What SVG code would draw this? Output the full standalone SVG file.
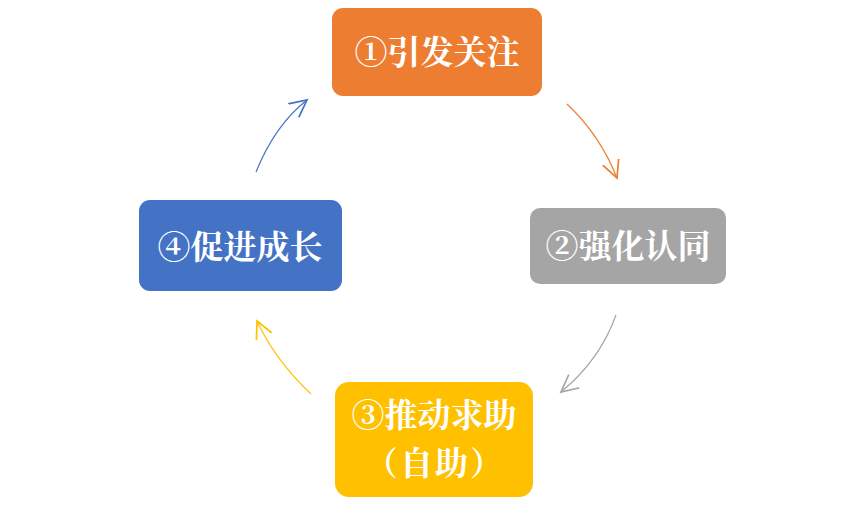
<svg xmlns="http://www.w3.org/2000/svg" width="865" height="514" viewBox="0 0 865 514">
<style>
.t{font-family:"Noto Serif CJK SC","Noto Sans CJK SC","Liberation Serif",serif;font-weight:bold;font-size:33px;fill:#fff;text-anchor:middle;dominant-baseline:central}
.c{fill:none;stroke-width:1.2}
</style>
<defs>
<marker id="mo" markerUnits="userSpaceOnUse" markerWidth="20" markerHeight="20" refX="12" refY="6" orient="auto" viewBox="0 0 14 12"><path d="M0,0 L12,6 L0,12" fill="none" stroke="#ED7D31" stroke-width="1.2"/></marker>
<marker id="mg" markerUnits="userSpaceOnUse" markerWidth="20" markerHeight="20" refX="12" refY="6" orient="auto" viewBox="0 0 14 12"><path d="M0,0 L12,6 L0,12" fill="none" stroke="#A5A5A5" stroke-width="1.2"/></marker>
<marker id="my" markerUnits="userSpaceOnUse" markerWidth="20" markerHeight="20" refX="12" refY="6" orient="auto" viewBox="0 0 14 12"><path d="M0,0 L12,6 L0,12" fill="none" stroke="#FFC000" stroke-width="1.2"/></marker>
<marker id="mb" markerUnits="userSpaceOnUse" markerWidth="20" markerHeight="20" refX="12" refY="6" orient="auto" viewBox="0 0 14 12"><path d="M0,0 L12,6 L0,12" fill="none" stroke="#4472C4" stroke-width="1.2"/></marker>
</defs>
<rect width="865" height="514" fill="#fff"/>
<g id="connectors">
<path class="c" d="M567,104 Q600,135 617,178" stroke="#ED7D31" marker-end="url(#mo)"/>
<path class="c" d="M616,315 Q600,360 561,392" stroke="#A5A5A5" marker-end="url(#mg)"/>
<path class="c" d="M311,394 Q275,360 257,321" stroke="#FFC000" marker-end="url(#my)"/>
<path class="c" d="M256,172 Q275,125 307,100" stroke="#4472C4" marker-end="url(#mb)"/>
</g>
<g id="node1">
<rect x="332" y="8" width="210" height="88" rx="11" fill="#ED7D31"/>
<text class="t" x="437" y="49">①引发关注</text>
</g>
<g id="node2">
<rect x="530" y="208" width="196" height="76" rx="10" fill="#A5A5A5"/>
<text class="t" x="628" y="243">②强化认同</text>
</g>
<g id="node3">
<rect x="335" y="382" width="198" height="115" rx="14" fill="#FFC000"/>
<text class="t" x="434" y="412">③推动求助</text>
<text class="t" x="435" y="460" letter-spacing="2">（自助）</text>
</g>
<g id="node4">
<rect x="139" y="200" width="203" height="91" rx="11" fill="#4472C4"/>
<text class="t" x="240" y="244">④促进成长</text>
</g>
</svg>
